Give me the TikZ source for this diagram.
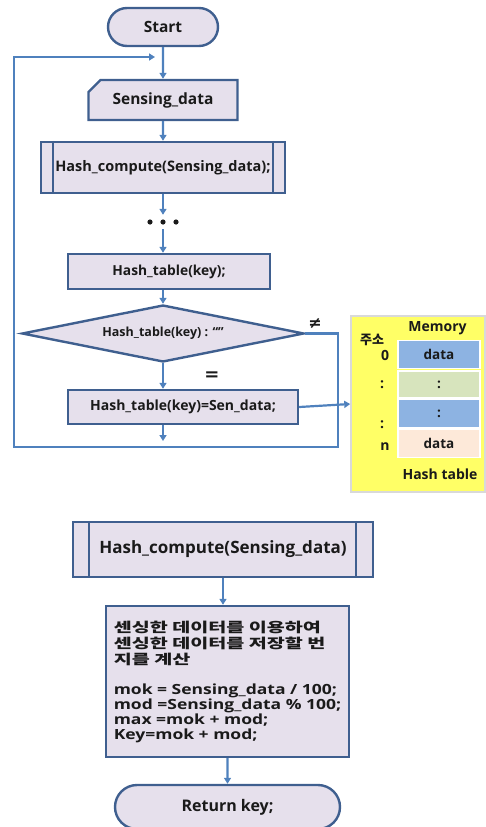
\documentclass[tikz,border=0pt]{standalone}
\usepackage{fontspec}
\setmainfont{Open Sans}
\newfontfamily\kr{Noto Sans CJK KR}
\newfontfamily\widefont[FakeStretch=1.25]{Open Sans}
\newfontfamily\krwide[FakeStretch=1.45]{Noto Sans CJK KR}
\newfontfamily\sym{DejaVu Sans}
\newcommand\krline{\krwide\bfseries\fontsize{13.5}{16}\selectfont}
\usetikzlibrary{arrows.meta,shapes.geometric,shapes.misc}
\definecolor{boxfill}{HTML}{E6E0EC}
\definecolor{boxline}{HTML}{3F5F8F}
\definecolor{arrline}{HTML}{4F81BD}
\definecolor{txt}{HTML}{1A1A1A}
\definecolor{panelfill}{HTML}{FFFF66}
\definecolor{panelline}{HTML}{D9D9D9}
\definecolor{cellblue}{HTML}{8DB3E2}
\definecolor{cellgreen}{HTML}{D7E4BD}
\definecolor{cellpeach}{HTML}{FDE9D9}
\tikzset{
  box/.style={draw=boxline, fill=boxfill, line width=2.4pt, text=txt, font=\bfseries, inner sep=0pt},
  stadium/.style={box, rounded rectangle},
  arr/.style={draw=arrline, line width=2.2pt, -{Triangle[length=6pt,width=7pt]}},
  inner/.style={draw=boxline, line width=2.4pt},
  cell/.style={draw=white, line width=1.5pt, minimum width=82pt, text=txt, font=\bfseries\fontsize{13.5}{15}\selectfont, inner sep=0pt},
  lbl/.style={text=txt, font=\bfseries\fontsize{14}{16}\selectfont, inner sep=0pt}
}
\begin{document}
\begin{tikzpicture}[x=1pt,y=-1pt]
\useasboundingbox (0,0) rectangle (486,827);
% top flowchart
\node[stadium, minimum width=110pt, minimum height=38pt, font=\bfseries\fontsize{15.5}{17}\selectfont] (start) at (163,27) {Start};
\node[box, chamfered rectangle, chamfered rectangle corners=north west, chamfered rectangle xsep=6pt, chamfered rectangle ysep=6pt, minimum width=149pt, minimum height=40pt, font=\bfseries\fontsize{15.5}{17}\selectfont] (sd) at (163,100) {Sensing\_data};
\node[box, minimum width=244pt, minimum height=51pt, font=\bfseries\fontsize{14.5}{16}\selectfont] (hc) at (163,167.5) {Hash\_compute(Sensing\_data);};
\draw[inner] ([xshift=13pt]hc.north west) -- ([xshift=13pt]hc.south west);
\draw[inner] ([xshift=-13pt]hc.north east) -- ([xshift=-13pt]hc.south east);
\node[inner sep=0pt, minimum width=30pt, minimum height=14pt] (dots) at (163,222) {};
\fill[txt] (150,222) circle (2.6pt) (163,222) circle (2.6pt) (176,222) circle (2.6pt);
\node[box, minimum width=202pt, minimum height=35pt, font=\bfseries\fontsize{13.8}{15}\selectfont] (ht) at (169,271.5) {Hash\_table(key);};
\node[box, diamond, aspect=4.95, minimum width=282pt, minimum height=57pt, font=\bfseries\fontsize{12.5}{14}\selectfont] (dia) at (163,333.5) {Hash\_table(key) : “”};
\node[box, minimum width=230pt, minimum height=34pt, font=\bfseries\fontsize{14}{16}\selectfont] (hs) at (183,407) {Hash\_table(key)=Sen\_data;};
\node[text=txt, font=\sym\bfseries\fontsize{16}{17}\selectfont, inner sep=0pt] (neq) at (315,323) {≠};
\node[text=txt, font=\sym\bfseries\fontsize{18}{18}\selectfont, inner sep=0pt] (eq) at (212,376) {=};
\coordinate (rc) at (338,447);
\coordinate (lc) at (14,447);
\coordinate (le) at (155,57);
\coordinate (mend) at (163,441);
\draw[arr] (start) -- (sd);
\draw[arr] (sd) -- (hc);
\draw[arr] (hc) -- (dots);
\draw[arr] (dots) -- (ht.north -| dots);
\draw[arr] (ht.south -| dia) -- (dia.north);
\draw[arr] (dia) -- (hs.north -| dia);
\draw[arr] (hs.south -| dia) -- (mend);
\draw[arr] (dia.east) -| (rc) -- (lc) |- (le);
% hash table panel
\node[draw=panelline, fill=panelfill, line width=1.5pt, minimum width=134pt, minimum height=176pt, inner sep=0pt] (panel) at (418,404) {};
\draw[arr] (hs.east) -- (panel.west);
\node[cell, fill=cellblue, minimum height=28pt] (c1) at (439,354.5) {data};
\node[cell, fill=cellgreen, minimum height=27pt] (c2) at (439,384.5) {:};
\node[cell, fill=cellblue, minimum height=29pt] (c3) at (439,413.5) {:};
\node[cell, fill=cellpeach, minimum height=28pt] (c4) at (439,443.5) {data};
\node[lbl] (mem) at (437.5,328) {Memory};
\node[lbl, font=\kr\bfseries\fontsize{13}{15}\selectfont] (addr) at (372,340) {주소};
\node[lbl] (a0) at (385,355) {0};
\node[lbl] (a1) at (382,385) {:};
\node[lbl] (a2) at (382,425) {:};
\node[lbl] (an) at (385,447) {n};
\node[lbl] (htl) at (440,474) {Hash table};
% bottom flowchart
\node[box, minimum width=300pt, minimum height=55pt, font=\bfseries\fontsize{17}{19}\selectfont] (hc2) at (223,549.5) {Hash\_compute(Sensing\_data)};
\draw[inner] ([xshift=17pt]hc2.north west) -- ([xshift=17pt]hc2.south west);
\draw[inner] ([xshift=-18pt]hc2.north east) -- ([xshift=-18pt]hc2.south east);
\node[box, minimum width=243pt, minimum height=151pt, align=left, font=\widefont\bfseries\fontsize{14}{15}\selectfont] (calc) at (227.5,681.5)
 {\krline 센싱한 데이터를 이용하여\\[1pt]\krline 센싱한 데이터를 저장할 번\\[1pt]\krline 지를 계산\\[15pt]
  mok = Sensing\_data / 100;\\mod =Sensing\_data \% 100;\\max =mok + mod;\\Key=mok + mod;};
\node[stadium, minimum width=225pt, minimum height=44pt, font=\bfseries\fontsize{16}{18}\selectfont] (ret) at (227.5,807) {Return key;};
\draw[arr] (hc2) -- (calc.north -| hc2.south);
\draw[arr] (calc.south -| ret.north) -- (ret);
\end{tikzpicture}
\end{document}
